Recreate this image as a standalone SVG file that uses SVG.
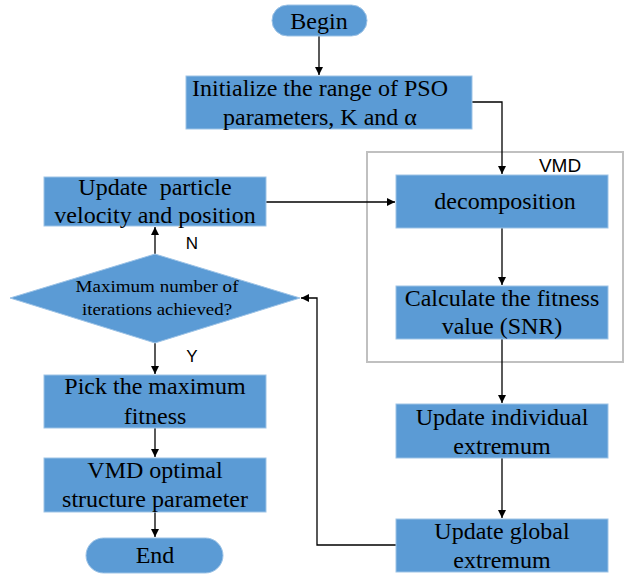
<svg xmlns="http://www.w3.org/2000/svg" width="625" height="575" viewBox="0 0 625 575">
<style>
.box{fill:#5b9bd5;stroke:#9dc3e6;stroke-width:1}
.t{font-family:"Liberation Serif","Times New Roman",serif;font-size:24px;fill:#000;text-anchor:middle}
.s{font-family:"Liberation Sans",Arial,sans-serif;font-size:17px;fill:#000;text-anchor:middle}
.c{fill:none;stroke:#000;stroke-width:1.3}
</style>
<defs>
<marker id="ah" viewBox="0 0 10 10" refX="10" refY="5" markerWidth="8" markerHeight="8" markerUnits="userSpaceOnUse" orient="auto">
<path d="M0,0 L10,5 L0,10 z" fill="#000"/>
</marker>
</defs>
<rect id="vmd-frame" x="367" y="152" width="256" height="210" fill="none" stroke="#c0c0c0" stroke-width="2"/>
<text class="s" x="560" y="172" style="font-size:19px">VMD</text>
<g id="connectors">
<path class="c" d="M319,36 V75" marker-end="url(#ah)"/>
<path class="c" d="M472,102 H502 V174" marker-end="url(#ah)"/>
<path class="c" d="M502,228 V285" marker-end="url(#ah)"/>
<path class="c" d="M502,339 V403" marker-end="url(#ah)"/>
<path class="c" d="M502,458 V518" marker-end="url(#ah)"/>
<path class="c" d="M396,545 H317 V298 H301" marker-end="url(#ah)"/>
<path class="c" d="M266,202 H395" marker-end="url(#ah)"/>
<path class="c" d="M155,254 V227" marker-end="url(#ah)"/>
<path class="c" d="M155,343 V374" marker-end="url(#ah)"/>
<path class="c" d="M155,428 V457" marker-end="url(#ah)"/>
<path class="c" d="M155,512 V537" marker-end="url(#ah)"/>
<text class="s" x="192" y="249">N</text>
<text class="s" x="192" y="362">Y</text>
</g>
<g id="begin">
<rect class="box" x="272" y="5" width="95" height="31" rx="15.5"/>
<text class="t" x="319" y="29">Begin</text>
</g>
<g id="init">
<rect class="box" x="186" y="76" width="286" height="53"/>
<text class="t" x="320" y="96">Initialize the range of PSO</text>
<text class="t" x="320" y="125">parameters, K and  α</text>
</g>
<g id="decomposition">
<rect class="box" x="396" y="175" width="212" height="53"/>
<text class="t" x="505" y="209">decomposition</text>
</g>
<g id="fitness">
<rect class="box" x="396" y="286" width="212" height="53"/>
<text class="t" x="502" y="306">Calculate the fitness</text>
<text class="t" x="502" y="334">value (SNR)</text>
</g>
<g id="individual">
<rect class="box" x="396" y="404" width="212" height="54"/>
<text class="t" x="502" y="425">Update individual</text>
<text class="t" x="502" y="454">extremum</text>
</g>
<g id="global">
<rect class="box" x="396" y="519" width="212" height="53"/>
<text class="t" x="502" y="539">Update global</text>
<text class="t" x="502" y="568">extremum</text>
</g>
<g id="update-particle">
<rect class="box" x="44" y="177" width="222" height="49"/>
<text class="t" x="155" y="195" xml:space="preserve">Update  particle</text>
<text class="t" x="155" y="223">velocity and position</text>
</g>
<g id="decision">
<polygon class="box" points="155,254 300,298 155,343 10,298"/>
<text class="t" x="157" y="292" style="font-size:16px" textLength="163" lengthAdjust="spacingAndGlyphs">Maximum number of</text>
<text class="t" x="157" y="315" style="font-size:16px" textLength="150" lengthAdjust="spacingAndGlyphs">iterations achieved?</text>
</g>
<g id="pick">
<rect class="box" x="44" y="375" width="222" height="53"/>
<text class="t" x="155" y="394">Pick the maximum</text>
<text class="t" x="155" y="424">fitness</text>
</g>
<g id="optimal">
<rect class="box" x="44" y="458" width="222" height="54"/>
<text class="t" x="155" y="478">VMD optimal</text>
<text class="t" x="155" y="507">structure parameter</text>
</g>
<g id="end">
<rect class="box" x="86" y="538" width="137" height="35" rx="17.5"/>
<text class="t" x="155" y="563">End</text>
</g>
</svg>
